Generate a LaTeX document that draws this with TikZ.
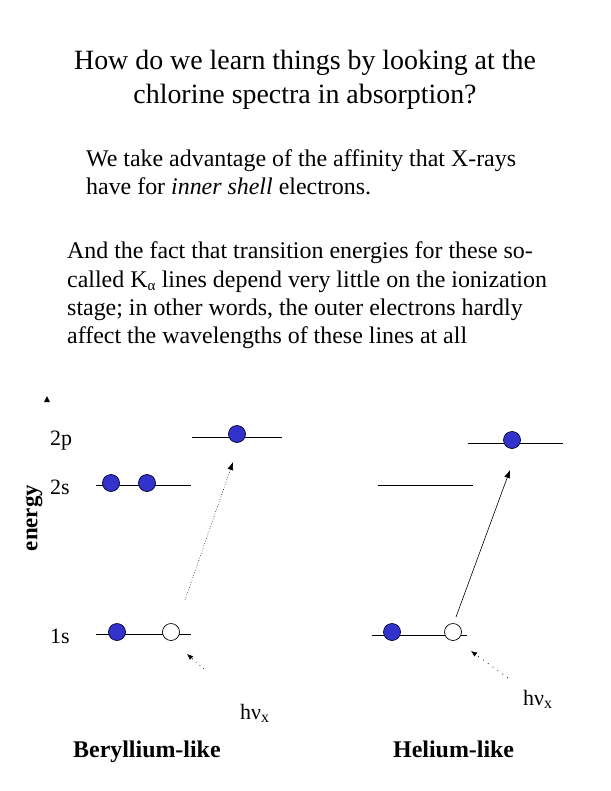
\documentclass[tikz,border=0pt]{standalone}
\usepackage{fontspec}
\setmainfont{Liberation Serif}
\usetikzlibrary{arrows.meta}
\definecolor{eblue}{RGB}{51,51,204}
\begin{document}
\begin{tikzpicture}[x=1bp,y=-1bp,
  txt/.style={anchor=base west,inner sep=0pt,font=\fontsize{24}{28}\selectfont},
  ttl/.style={anchor=base,inner sep=0pt,font=\fontsize{28}{32}\selectfont},
  lvl/.style={line width=0.9bp},
  elec/.style={circle,draw=black!80!blue,fill=eblue,minimum size=17bp,inner sep=0pt,line width=0.7bp},
  hole/.style={circle,draw=black,fill=white,minimum size=17bp,inner sep=0pt,line width=0.7bp},
  lab/.style={anchor=base west,inner sep=0pt,font=\fontsize{22}{26}\selectfont},
  bold/.style={anchor=base west,inner sep=0pt,font=\fontsize{24}{28}\selectfont\bfseries},
  tr/.style={-{Latex[length=8bp,width=6bp]},line width=0.6bp}]
\useasboundingbox (0,0) rectangle (611,791);
% text
\node[ttl] (t1) at (305,70) {How do we learn things by looking at the};
\node[ttl] (t2) at (305,103) {chlorine spectra in absorption?};
\node[txt] (p1) at (86,166) {We take advantage of the affinity that X-rays};
\node[txt] (p2) at (86,194) {have for \textit{inner shell} electrons.};
\node[txt] (q1) at (67,258) {And the fact that transition energies for these so-};
\node[txt] (q2) at (67,287) {called K\textsubscript{\fontsize{15}{15}\selectfont α} lines depend very little on the ionization};
\node[txt] (q3) at (67,315) {stage; in other words, the outer electrons hardly};
\node[txt] (q4) at (67,343) {affect the wavelengths of these lines at all};
% axis tip
\fill (44,402) -- (50,402) -- (47,396) -- cycle;
\node[rotate=90,inner sep=0pt,font=\fontsize{23}{26}\selectfont\bfseries] (en) at (34,518) {energy};
\node[lab] (l2p) at (50,445) {2p};
\node[lab] (l2s) at (50,494) {2s};
\node[lab] (l1s) at (50,643) {1s};
% Beryllium-like
\coordinate (b2sa) at (96,485); \coordinate (b2sb) at (191,485);
\coordinate (b2pa) at (192,437); \coordinate (b2pb) at (282,437);
\coordinate (b1sa) at (96,634); \coordinate (b1sb) at (191,634);
\draw[lvl] (b2sa) -- (b2sb);
\draw[lvl] (b2pa) -- (b2pb);
\draw[lvl] (b1sa) -- (b1sb);
\node[elec] (be1) at (111,483) {};
\node[elec] (be2) at (147,483) {};
\node[elec] (be3) at (237,434) {};
\node[elec] (be4) at (117,632) {};
\node[hole] (bh) at (171,632) {};
\coordinate (bs) at (185,600);
\coordinate (be) at (233,462);
\draw[tr,dotted] (bs) -- (be);
\coordinate (bps) at (204,669);
\coordinate (bpe) at (187,654);
\draw[tr,dash pattern=on 1bp off 4bp,-{Latex[length=6bp,width=5bp]}] (bps) -- (bpe);
\node[lab] (bhv) at (240,719) {hν\textsubscript{\fontsize{16}{16}\selectfont x}};
\node[bold] (bn) at (73,757) {Beryllium-like};
% Helium-like
\coordinate (h2sa) at (378,485); \coordinate (h2sb) at (473,485);
\coordinate (h2pa) at (468,443); \coordinate (h2pb) at (563,443);
\coordinate (h1sa) at (372,635); \coordinate (h1sb) at (467,635);
\draw[lvl] (h2sa) -- (h2sb);
\draw[lvl] (h2pa) -- (h2pb);
\draw[lvl] (h1sa) -- (h1sb);
\node[elec] (he1) at (512,440) {};
\node[elec] (he2) at (392,632) {};
\node[hole] (hh) at (453,632) {};
\coordinate (hs) at (456,617);
\coordinate (he) at (510,470);
\draw[tr] (hs) -- (he);
\coordinate (hps) at (508,678);
\coordinate (hpe) at (471,651);
\draw[tr,dash pattern=on 1bp off 5bp,-{Latex[length=6bp,width=5bp]}] (hps) -- (hpe);
\node[lab] (hhv) at (523,705) {hν\textsubscript{\fontsize{16}{16}\selectfont x}};
\node[bold] (hn) at (393,757) {Helium-like};
\end{tikzpicture}
\end{document}
